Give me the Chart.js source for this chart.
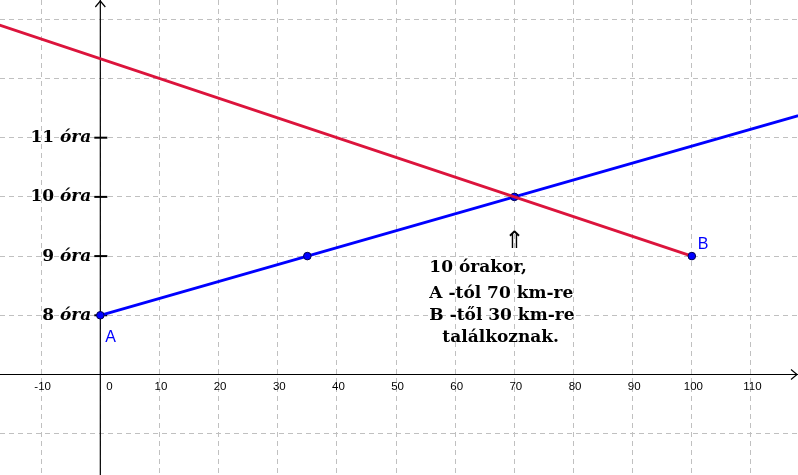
<!DOCTYPE html>
<html>
<head>
<meta charset="utf-8">
<script src="https://cdn.jsdelivr.net/npm/chart.js@4"></script>
<style>
  html, body { margin: 0; padding: 0; background: #fff; }
  #wrap { width: 798px; height: 475px; }
</style>
</head>
<body>
<div id="wrap"><canvas id="c" width="798" height="475"></canvas></div>
<script>
// ---- data ----
const xTicks = [-10, 0, 10, 20, 30, 40, 50, 60, 70, 80, 90, 100, 110];
const yTicks = [8, 9, 10, 11];
const yTickLabels = ['8', '9', '10', '11'];
const yUnit = 'óra';
// Blue (from A): km from A vs. hour
const blueX = [0, 35, 70, 120];
const blueY = [8, 9, 10, 11.43];
const blueRadius = [3.8, 3.8, 3.8, 0];
// Red (towards B)
const redX = [-20, 70, 100];
const redY = [13, 10, 9];
const redRadius = [0, 0, 3.8];
const pointLabels = [{ t: 'A', x: 0, y: 8, dx: 5, dy: 27 }, { t: 'B', x: 100, y: 9, dx: 6, dy: -7 }];
const noteLines = ['10 órakor,', 'A -tól 70 km-re', 'B -től 30 km-re', 'találkoznak.'];
const noteArrow = '⇑';

const toPts = (xs, ys) => xs.map((x, i) => ({ x: x, y: ys[i] }));

const axesPlugin = {
  id: 'geoAxes',
  beforeDatasetsDraw(chart) {
    const ctx = chart.ctx, xs = chart.scales.x, ys = chart.scales.y;
    const W = chart.width, H = chart.height;
    const x0 = xs.getPixelForValue(0), y0 = ys.getPixelForValue(7);
    ctx.save();
    ctx.strokeStyle = '#000';
    ctx.lineWidth = 1.2;
    ctx.beginPath();
    ctx.moveTo(0, y0); ctx.lineTo(W, y0);
    ctx.moveTo(x0, 0); ctx.lineTo(x0, H);
    ctx.stroke();
    // arrows
    ctx.beginPath();
    ctx.moveTo(W - 7, y0 - 5); ctx.lineTo(W - 1, y0); ctx.lineTo(W - 7, y0 + 5);
    ctx.moveTo(x0 - 5, 7); ctx.lineTo(x0, 1); ctx.lineTo(x0 + 5, 7);
    ctx.stroke();
    // y tick marks
    ctx.lineWidth = 2;
    yTicks.forEach(v => {
      const py = ys.getPixelForValue(v);
      ctx.beginPath(); ctx.moveTo(x0 - 6, py); ctx.lineTo(x0 + 7, py); ctx.stroke();
    });
    ctx.restore();
  },
  afterDatasetsDraw(chart) {
    const ctx = chart.ctx, xs = chart.scales.x, ys = chart.scales.y;
    const x0 = xs.getPixelForValue(0), y0 = ys.getPixelForValue(7);
    ctx.save();
    // x tick labels
    ctx.fillStyle = '#000';
    ctx.font = '11.5px "Liberation Sans", Arial, sans-serif';
    ctx.textBaseline = 'alphabetic';
    xTicks.forEach(v => {
      const px = xs.getPixelForValue(v);
      if (v === 0) { ctx.textAlign = 'left'; ctx.fillText('0', px + 6, y0 + 16); }
      else { ctx.textAlign = 'center'; ctx.fillText(String(v), px + 1.5, y0 + 16); }
    });
    // y tick labels
    const fUp = 'bold 17px "DejaVu Serif", serif';
    const fIt = 'italic bold 17px "DejaVu Serif", serif';
    ctx.textBaseline = 'middle';
    yTicks.forEach((v, i) => {
      const py = ys.getPixelForValue(v);
      const right = x0 - 9;
      ctx.font = fIt; ctx.textAlign = 'right';
      const wu = ctx.measureText(yUnit).width;
      ctx.fillText(yUnit, right, py);
      ctx.font = fUp;
      ctx.fillText(yTickLabels[i] + ' ', right - wu, py);
    });
    // point labels
    ctx.font = '16px "Liberation Sans", Arial, sans-serif';
    ctx.fillStyle = '#0000ff';
    ctx.textAlign = 'left'; ctx.textBaseline = 'alphabetic';
    pointLabels.forEach(p => {
      ctx.fillText(p.t, xs.getPixelForValue(p.x) + p.dx, ys.getPixelForValue(p.y) + p.dy);
    });
    // note
    const ax = xs.getPixelForValue(70), ay = ys.getPixelForValue(10);
    ctx.fillStyle = '#000';
    ctx.font = '24px "DejaVu Sans", sans-serif';
    ctx.textAlign = 'center';
    ctx.fillText(noteArrow, ax, ay + 51);
    ctx.font = 'bold 17px "DejaVu Serif", serif';
    ctx.textAlign = 'left';
    const left = ax - 85;
    const base = [ay + 75, ay + 101, ay + 123, ay + 145];
    noteLines.forEach((t, i) => {
      ctx.fillText(t, i === 3 ? left + 13 : left, base[i]);
    });
    ctx.restore();
  }
};

new Chart(document.getElementById('c'), {
  type: 'scatter',
  data: {
    datasets: [
      {
        data: toPts(redX, redY), showLine: true, borderColor: '#dc143c', borderWidth: 2.8,
        pointRadius: redRadius, pointBackgroundColor: '#0000ff', pointBorderColor: '#000050', pointBorderWidth: 1
      },
      {
        data: toPts(blueX, blueY), showLine: true, borderColor: '#0000ff', borderWidth: 2.8,
        pointRadius: blueRadius, pointBackgroundColor: '#0000ff', pointBorderColor: '#000050', pointBorderWidth: 1
      }
    ]
  },
  options: {
    responsive: false, animation: false, devicePixelRatio: 1,
    layout: { padding: 0, autoPadding: false },
    plugins: { legend: { display: false }, tooltip: { enabled: false } },
    scales: {
      x: {
        type: 'linear', min: -16.96, max: 117.95,
        ticks: { display: false, stepSize: 10, includeBounds: false },
        grid: { color: '#c0c0c0', lineWidth: 1, drawTicks: false },
        border: { display: false, dash: [5, 4] },
        afterFit(s) { s.height = 0; }
      },
      y: {
        type: 'linear', min: 5.302, max: 13.326,
        ticks: { display: false, stepSize: 1, includeBounds: false },
        grid: { color: '#c0c0c0', lineWidth: 1, drawTicks: false },
        border: { display: false, dash: [5, 4] },
        afterFit(s) { s.width = 0; }
      }
    }
  },
  plugins: [axesPlugin]
});
</script>
</body>
</html>
